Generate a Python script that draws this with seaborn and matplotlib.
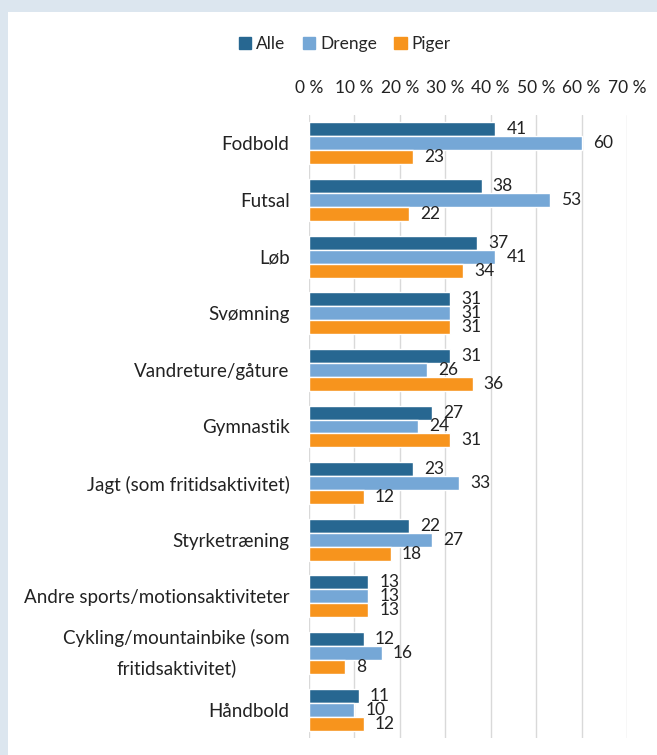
import pandas as pd
import matplotlib.pyplot as plt
import seaborn as sns
from matplotlib.patches import Rectangle

# Data (percent)
categories = [
    "Fodbold", "Futsal", "Løb", "Svømning", "Vandreture/gåture", "Gymnastik",
    "Jagt (som fritidsaktivitet)", "Styrketræning",
    "Andre sports/motionsaktiviteter",
    "Cykling/mountainbike (som\nfritidsaktivitet)", "Håndbold",
]
alle = [41, 38, 37, 31, 31, 27, 23, 22, 13, 12, 11]
drenge = [60, 53, 41, 31, 26, 24, 33, 27, 13, 16, 10]
piger = [23, 22, 34, 31, 36, 31, 12, 18, 13, 8, 12]
groups = ["Alle", "Drenge", "Piger"]
colors = ["#276791", "#75a7d6", "#f7941d"]
xticks = [0, 10, 20, 30, 40, 50, 60, 70]

df = pd.DataFrame({"Aktivitet": categories, "Alle": alle, "Drenge": drenge, "Piger": piger})
long = df.melt(id_vars="Aktivitet", var_name="Gruppe", value_name="Pct")

sns.set_style("white")
plt.rcParams["font.family"] = ["Lato", "DejaVu Sans"]

fig = plt.figure(figsize=(6.57, 7.55), dpi=100)
fig.patch.set_facecolor("#dce6ef")
fig.patches.append(Rectangle((8 / 657, 0), 1, (755 - 12) / 755, transform=fig.transFigure,
                             facecolor="white", edgecolor="none", zorder=-10))
ax = fig.add_axes([309 / 657, 1 - 738 / 755, (627 - 309) / 657, (738 - 115) / 755])
ax.set_facecolor("white")

sns.barplot(data=long, y="Aktivitet", x="Pct", hue="Gruppe", hue_order=groups,
            palette=colors, orient="h", width=0.74, saturation=1, ax=ax, legend=False)

for cont in ax.containers:
    ax.bar_label(cont, fmt="%d", padding=8, fontsize=12.5, color="#222222")

ax.set_xlim(0, 70)
ax.set_ylim(10.5, -0.5)
ax.set_xticks(xticks)
ax.set_xticklabels([f"{t} %" for t in xticks])
ax.xaxis.tick_top()
ax.tick_params(axis="x", length=0, pad=14, labelsize=12.5, colors="#222222")
ax.tick_params(axis="y", length=0, pad=14, labelsize=13.5, colors="#222222")
for lbl in ax.get_yticklabels():
    lbl.set_multialignment("center")
    lbl.set_linespacing(1.8)
    if "\n" in lbl.get_text():
        lbl.set_verticalalignment("center")
ax.grid(axis="x", color="#d9d9d9", linewidth=1)
ax.set_axisbelow(True)
for s in ax.spines.values():
    s.set_visible(False)
ax.set_xlabel("")
ax.set_ylabel("")

handles = [Rectangle((0, 0), 1, 1, color=c) for c in colors]
fig.legend(handles, groups, loc="center", bbox_to_anchor=(0.525, 1 - 44 / 755), ncol=3,
           frameon=False, fontsize=12.5, handlelength=0.7, handleheight=0.7,
           handletextpad=0.3, columnspacing=1.0)

fig.savefig("out.png", dpi=100, facecolor=fig.get_facecolor())
